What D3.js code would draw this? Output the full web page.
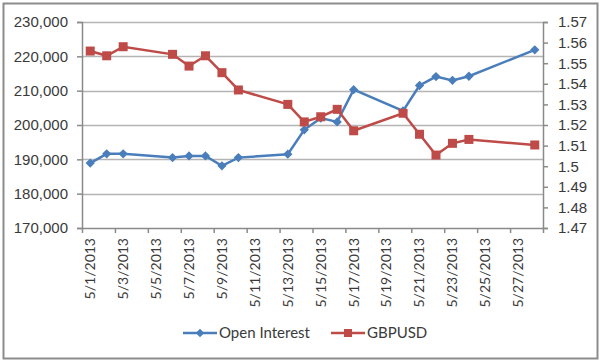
<!DOCTYPE html>
<html>
<head>
<meta charset="utf-8">
<script src="https://cdn.jsdelivr.net/npm/d3@7"></script>
<style>
  body { margin: 0; background: #fff; }
  svg { display: block; font-family: Lato, "Open Sans", sans-serif; }
</style>
</head>
<body>
<div id="chart"></div>
<script>
// data
var dates = ["2013-05-01", "2013-05-02", "2013-05-03", "2013-05-06", "2013-05-07", "2013-05-08",
             "2013-05-09", "2013-05-10", "2013-05-13", "2013-05-14", "2013-05-15", "2013-05-16",
             "2013-05-17", "2013-05-20", "2013-05-21", "2013-05-22", "2013-05-23", "2013-05-24",
             "2013-05-28"];
var openInterest = [188900, 191600, 191600, 190500, 191000, 191000, 188100, 190500, 191500,
                    198600, 202000, 200900, 210300, 204100, 211500, 214100, 213000, 214200, 221900];
var gbpusd = [1.5559, 1.5536, 1.5580, 1.5543, 1.5486, 1.5536, 1.5454, 1.5370, 1.5300,
              1.5215, 1.5240, 1.5276, 1.5172, 1.5257, 1.5155, 1.5054, 1.5111, 1.5130, 1.5103];
var leftTicks = [170000, 180000, 190000, 200000, 210000, 220000, 230000];
var rightTicks = [1.47, 1.48, 1.49, 1.5, 1.51, 1.52, 1.53, 1.54, 1.55, 1.56, 1.57];
var seriesNames = ["Open Interest", "GBPUSD"];
var colors = ["#4a7ebb", "#be4b48"];

var W = 600, H = 362;
var plot = { left: 82, right: 543, top: 22, bottom: 228 };
var parse = d3.timeParse("%Y-%m-%d");
var dayStart = parse("2013-05-01"), dayEnd = parse("2013-05-29");

var svg = d3.select("#chart").append("svg")
    .attr("width", W)
    .attr("height", H);

// outer frame
svg.append("rect")
    .attr("x", 3.5).attr("y", 3.5)
    .attr("width", 594).attr("height", 355)
    .attr("fill", "#fff")
    .attr("stroke", "#8c8c8c")
    .attr("stroke-width", 2);

var x = d3.scaleTime().domain([dayStart, dayEnd]).range([plot.left, plot.right]);
var yL = d3.scaleLinear().domain([170000, 230000]).range([plot.bottom, plot.top]);
var yR = d3.scaleLinear().domain([1.47, 1.57]).range([plot.bottom, plot.top]);

// center of a day
function xc(d) { return x(d3.timeHour.offset(d, 12)); }

// gridlines
svg.append("g")
    .selectAll("line")
    .data(leftTicks.slice(1))
    .enter().append("line")
    .attr("x1", plot.left).attr("x2", plot.right)
    .attr("y1", function (d) { return Math.round(yL(d)) + 0.5; })
    .attr("y2", function (d) { return Math.round(yL(d)) + 0.5; })
    .attr("stroke", "#b4b4b4")
    .attr("stroke-width", 1.5);

var textColor = "#3a3a3a";
var axisColor = "#8a8a8a";

// left axis
var gL = svg.append("g")
    .attr("transform", "translate(" + plot.left + ",0)")
    .call(d3.axisLeft(yL).tickValues(leftTicks).tickFormat(d3.format(",")).tickSize(5).tickPadding(9));
// right axis
var gR = svg.append("g")
    .attr("transform", "translate(" + plot.right + ",0)")
    .call(d3.axisRight(yR).tickValues(rightTicks).tickFormat(d3.format("")).tickSize(5).tickPadding(10));
// bottom axis, ticks every 2 days
var tickDates = d3.timeDay.range(dayStart, d3.timeDay.offset(dayEnd, 1), 2);
var gB = svg.append("g")
    .attr("transform", "translate(0," + plot.bottom + ")")
    .call(d3.axisBottom(x).tickValues(tickDates).tickFormat("").tickSize(5).tickSizeOuter(0));

[gL, gR, gB].forEach(function (g) {
    g.select(".domain").attr("stroke", axisColor).attr("stroke-width", 1.5);
    g.selectAll(".tick line").attr("stroke", axisColor).attr("stroke-width", 1.5);
    g.selectAll("text").attr("fill", textColor).style("font-size", "15px");
});

// date labels, rotated, centred on the day
var labelDates = tickDates.filter(function (d) { return d < dayEnd; });
var fmt = d3.timeFormat("%-m/%-d/%Y");
svg.append("g")
    .selectAll("text")
    .data(labelDates)
    .enter().append("text")
    .attr("transform", function (d) { return "translate(" + xc(d) + "," + (plot.bottom + 10) + ") rotate(-90)"; })
    .attr("text-anchor", "end")
    .attr("dy", "0.35em")
    .attr("fill", textColor)
    .style("font-size", "14px")
    .text(fmt);

var pts = dates.map(parse);

// series
var lineL = d3.line()
    .x(function (d, i) { return xc(pts[i]); })
    .y(function (d) { return yL(d); });
var lineR = d3.line()
    .x(function (d, i) { return xc(pts[i]); })
    .y(function (d) { return yR(d); });

svg.append("path")
    .datum(openInterest)
    .attr("d", lineL)
    .attr("fill", "none")
    .attr("stroke", colors[0])
    .attr("stroke-width", 2.5);

svg.append("g")
    .selectAll("path")
    .data(openInterest)
    .enter().append("path")
    .attr("d", d3.symbol().type(d3.symbolDiamond2).size(55))
    .attr("transform", function (d, i) { return "translate(" + xc(pts[i]) + "," + yL(d) + ")"; })
    .attr("fill", colors[0]);

svg.append("path")
    .datum(gbpusd)
    .attr("d", lineR)
    .attr("fill", "none")
    .attr("stroke", colors[1])
    .attr("stroke-width", 2.5);

svg.append("g")
    .selectAll("rect")
    .data(gbpusd)
    .enter().append("rect")
    .attr("x", function (d, i) { return xc(pts[i]) - 4.5; })
    .attr("y", function (d) { return yR(d) - 4.5; })
    .attr("width", 9).attr("height", 9)
    .attr("fill", colors[1]);

// legend
var legend = svg.append("g").attr("transform", "translate(0,333)");
var legendX = [183, 331];
seriesNames.forEach(function (name, i) {
    var lg = legend.append("g").attr("transform", "translate(" + legendX[i] + ",0)");
    lg.append("line")
        .attr("x1", 0).attr("x2", 34)
        .attr("stroke", colors[i]).attr("stroke-width", 2.5);
    if (i === 0) {
        lg.append("path")
            .attr("d", d3.symbol().type(d3.symbolDiamond2).size(45))
            .attr("transform", "translate(17,0)")
            .attr("fill", colors[i]);
    } else {
        lg.append("rect")
            .attr("x", 13).attr("y", -4).attr("width", 8).attr("height", 8)
            .attr("fill", colors[i]);
    }
    lg.append("text")
        .attr("x", 36)
        .attr("dy", "0.35em")
        .attr("fill", textColor)
        .style("font-size", "15px")
        .text(name);
});
</script>
</body>
</html>
